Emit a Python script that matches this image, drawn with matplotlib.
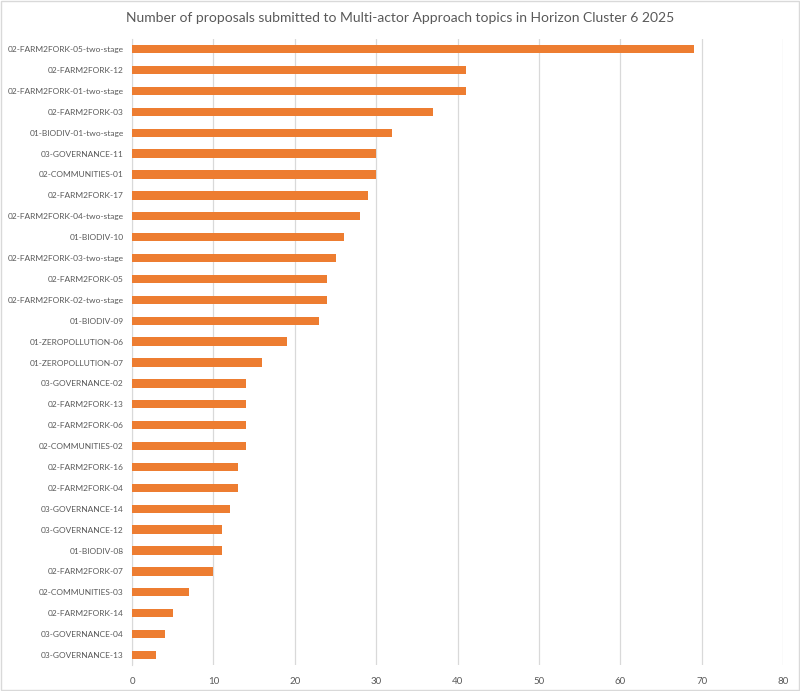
import matplotlib
matplotlib.use("Agg")
import matplotlib.pyplot as plt
from matplotlib.patches import Rectangle

topics = [
    "02-FARM2FORK-05-two-stage", "02-FARM2FORK-12", "02-FARM2FORK-01-two-stage",
    "02-FARM2FORK-03", "01-BIODIV-01-two-stage", "03-GOVERNANCE-11",
    "02-COMMUNITIES-01", "02-FARM2FORK-17", "02-FARM2FORK-04-two-stage",
    "01-BIODIV-10", "02-FARM2FORK-03-two-stage", "02-FARM2FORK-05",
    "02-FARM2FORK-02-two-stage", "01-BIODIV-09", "01-ZEROPOLLUTION-06",
    "01-ZEROPOLLUTION-07", "03-GOVERNANCE-02", "02-FARM2FORK-13",
    "02-FARM2FORK-06", "02-COMMUNITIES-02", "02-FARM2FORK-16",
    "02-FARM2FORK-04", "03-GOVERNANCE-14", "03-GOVERNANCE-12",
    "01-BIODIV-08", "02-FARM2FORK-07", "02-COMMUNITIES-03",
    "02-FARM2FORK-14", "03-GOVERNANCE-04", "03-GOVERNANCE-13",
]
proposals = [69, 41, 41, 37, 32, 30, 30, 29, 28, 26, 25, 24, 24, 23, 19,
             16, 14, 14, 14, 14, 13, 13, 12, 11, 11, 10, 7, 5, 4, 3]
xticks = [0, 10, 20, 30, 40, 50, 60, 70, 80]

plt.rcParams["font.family"] = ["Lato", "DejaVu Sans"]
text_col = "#595959"

fig = plt.figure(figsize=(8, 6.91), dpi=100)
ax = fig.add_axes([0.165, 0.037, 0.814, 0.907])

ypos = list(range(len(topics)))
ax.barh(ypos, proposals, height=0.4, color="#ED7D31", zorder=3)
ax.set_ylim(len(topics) - 0.5, -0.5)
ax.set_yticks(ypos)
ax.set_yticklabels(topics, fontsize=6.0, color=text_col)
ax.set_xlim(0, 80)
ax.set_xticks(xticks)
ax.set_xticklabels([str(t) for t in xticks], fontsize=7, color=text_col)
ax.grid(axis="x", color="#D9D9D9", linewidth=0.9, zorder=0)
for s in ["top", "right", "bottom"]:
    ax.spines[s].set_visible(False)
ax.spines["left"].set_color("#D9D9D9")
ax.tick_params(length=0, pad=8)
ax.tick_params(axis="y", pad=6)

fig.suptitle("Number of proposals submitted to Multi-actor Approach topics in Horizon Cluster 6 2025",
             y=0.983, fontsize=10, color=text_col)
fig.patches.append(Rectangle((0.001, 0.001), 0.998, 0.998, transform=fig.transFigure,
                             fill=False, edgecolor="#D9D9D9", linewidth=1))

fig.savefig("out.png", dpi=100)
